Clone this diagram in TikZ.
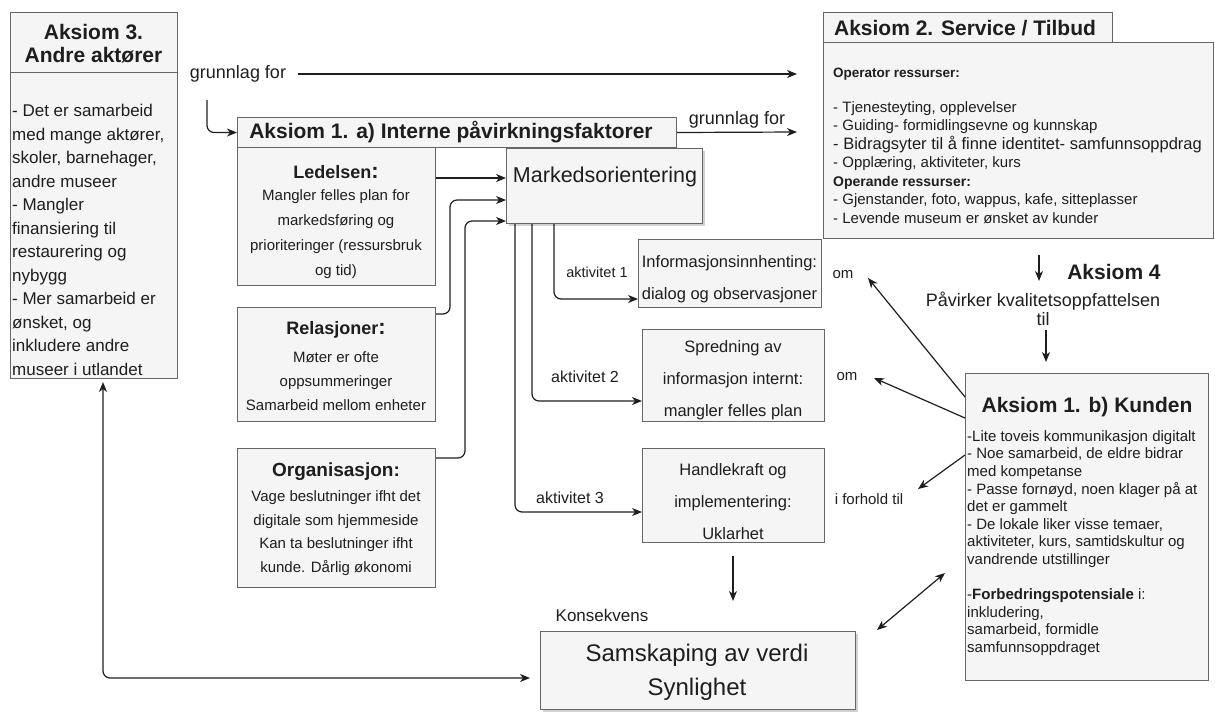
\documentclass[tikz,border=0pt]{standalone}
\usepackage{fontspec}
\setmainfont{Liberation Sans}
\usetikzlibrary{arrows.meta,shadows}
\definecolor{boxfill}{HTML}{F5F5F5}
\definecolor{boxline}{HTML}{666666}
\definecolor{ink}{HTML}{1E1E1E}
\newcommand\fsz[2]{\fontsize{#1}{#2}\selectfont}
\begin{document}
\begin{tikzpicture}[x=1pt,y=-1pt,
  box/.style={draw=boxline,fill=boxfill,line width=1pt,anchor=north west,inner sep=0pt},
  txt/.style={inner sep=0pt,text=ink},
  arr/.style={draw=ink,line width=1.2pt,-{Stealth[length=10pt,width=8pt,inset=3pt]},rounded corners=7pt},
  darr/.style={draw=ink,line width=1.2pt,{Stealth[length=10pt,width=8pt,inset=3pt]}-{Stealth[length=10pt,width=8pt,inset=3pt]},rounded corners=7pt},
  shad/.style={drop shadow={shadow xshift=2pt,shadow yshift=-2.5pt,fill=black,opacity=0.18}}]
\useasboundingbox (0,0) rectangle (1215,724);

% ---------- Aksiom 3 ----------
\node[box,minimum width=167pt,minimum height=60pt] (a3h) at (10,12) {};
\node[box,minimum width=167pt,minimum height=306pt] (a3b) at (10,72) {};
\node[txt,font=\bfseries\fsz{21}{23},align=center] (a3t) at (93.5,43.5) {Aksiom 3.\\Andre aktører};
\node[txt,font=\fsz{17}{23.5},align=left,anchor=west] (a3x) at (12,240)
 {- Det er samarbeid\\med mange aktører,\\skoler, barnehager,\\andre museer\\- Mangler\\finansiering til\\restaurering og\\nybygg\\- Mer samarbeid er\\ønsket, og\\inkludere andre\\museer i utlandet};

% ---------- grunnlag for ----------
\node[txt,font=\fsz{18}{20}] (gl1) at (238,74) {grunnlag for};
\coordinate (g1s) at (298,74);
\coordinate (g1e) at (797,74);
\draw[arr] (g1s) -- (g1e);
\coordinate (ls) at (207,100);

% ---------- Aksiom 1 a ----------
\node[box,minimum width=439pt,minimum height=30pt] (a1h) at (237,117) {};
\node[txt,font=\bfseries\fsz{21}{23}] (a1t) at (451,132) {Aksiom 1. a) Interne påvirkningsfaktorer};
\draw[arr] (ls) |- (a1h.west);

\node[txt,font=\fsz{18}{20}] (gl2) at (737,120) {grunnlag for};
\coordinate (g2e) at (797,132);
\draw[arr] (a1h.east) -- (g2e);

% Ledelsen
\node[box,minimum width=198pt,minimum height=138pt] (led) at (237,147) {};
\node[txt,font=\bfseries\fsz{18}{20}] (ledt) at (336,172) {Ledelsen{\fsz{22}{22}:}};
\node[txt,font=\fsz{15}{25},align=center] (ledx) at (336,234)
 {Mangler felles plan for\\markedsføring og\\prioriteringer (ressursbruk\\og tid)};

% Relasjoner
\node[box,minimum width=198pt,minimum height=114pt] (rel) at (237,307) {};
\node[txt,font=\bfseries\fsz{18}{20}] (relt) at (336,330) {Relasjoner{\fsz{22}{22}:}};
\node[txt,font=\fsz{15}{24},align=center] (relx) at (336,381)
 {Møter er ofte\\oppsummeringer\\Samarbeid mellom enheter};

% Organisasjon
\node[box,minimum width=198pt,minimum height=139pt] (org) at (237,448) {};
\node[txt,font=\bfseries\fsz{19}{20}] (orgt) at (336,472) {Organisasjon:};
\node[txt,font=\fsz{15}{23.5},align=center] (orgx) at (336,533)
 {Vage beslutninger ifht det\\digitale som hjemmeside\\Kan ta beslutninger ifht\\kunde. Dårlig økonomi};

% Markedsorientering
\node[box,shad,minimum width=196pt,minimum height=75pt] (mo) at (506,148) {};
\node[txt,font=\fsz{21.5}{24}] (mot) at (605,177) {Markedsorientering};

\draw[arr] (led.east |- 0,178) -- (mo.west |- 0,178);
\draw[arr] (rel.east |- 0,314) -| (450,200) -- (mo.west |- 0,200);
\draw[arr] (org.east |- 0,458) -| (465,221) -- (mo.west |- 0,221);

% Activity boxes
\node[box,minimum width=183pt,minimum height=68pt] (info) at (638,239) {};
\node[txt,font=\fsz{16.5}{32},align=center] (infox) at (729.5,279) {Informasjonsinnhenting:\\dialog og observasjoner};
\node[box,minimum width=182pt,minimum height=92pt] (spr) at (642,329) {};
\node[txt,font=\fsz{16.5}{32},align=center] (sprx) at (733,380) {Spredning av\\informasjon internt:\\mangler felles plan};
\node[box,minimum width=182pt,minimum height=94pt] (hand) at (642,448) {};
\node[txt,font=\fsz{16.5}{32},align=center] (handx) at (733,501.5) {Handlekraft og\\implementering:\\Uklarhet};

\draw[arr] (554,0 |- mo.south) |- (info.west |- 0,299);
\draw[arr] (532,0 |- mo.south) |- (spr.west |- 0,401);
\draw[arr] (515,0 |- mo.south) |- (hand.west |- 0,512);
\node[txt,font=\fsz{14.5}{16}] (ak1) at (597,272) {aktivitet 1};
\node[txt,font=\fsz{16}{18}] (ak2) at (585,377) {aktivitet 2};
\node[txt,font=\fsz{16}{18}] (ak3) at (570,498) {aktivitet 3};

% ---------- Aksiom 2 ----------
\node[box,minimum width=289pt,minimum height=30pt] (a2h) at (823,12) {};
\node[txt,font=\bfseries\fsz{21}{23}] (a2t) at (965,28) {Aksiom 2. Service / Tilbud};
\node[box,minimum width=390pt,minimum height=196pt] (a2b) at (823,42) {};
\node[txt,font=\fsz{15}{18.5},align=left,anchor=west] (a2x) at (833,146)
 {{\bfseries\fsz{13.5}{18.5}Operator ressurser:}\\[16pt]
  - Tjenesteyting, opplevelser\\
  - Guiding- formidlingsevne og kunnskap\\
  {\fsz{16.5}{18.5}- Bidragsyter til å finne identitet- samfunnsoppdrag}\\
  - Opplæring, aktiviteter, kurs\\
  {\bfseries\fsz{14}{18.5}Operande ressurser:}\\
  - Gjenstander, foto, wappus, kafe, sitteplasser\\
  - Levende museum er ønsket av kunder};

% ---------- Aksiom 4 ----------
\coordinate (a4s) at (1039,255);
\coordinate (a4e) at (1039,281);
\draw[arr] (a4s) -- (a4e);
\node[txt,font=\bfseries\fsz{21}{22}] (a4t) at (1114,272) {Aksiom 4};
\node[txt,font=\fsz{18}{19},align=center] (pk) at (1043,309) {Påvirker kvalitetsoppfattelsen\\til};
\coordinate (a4s2) at (1046,330);
\coordinate (a4e2) at (1046,362);
\draw[arr] (a4s2) -- (a4e2);

% ---------- Kunden ----------
\node[box,minimum width=243pt,minimum height=307pt] (kun) at (965,373) {};
\node[txt,font=\bfseries\fsz{21}{23}] (kunt) at (1087,407) {Aksiom 1. b) Kunden};
\node[txt,font=\fsz{15}{17.6},align=left,anchor=west] (kunx) at (967,543)
 {-Lite toveis kommunikasjon digitalt\\
  - Noe samarbeid, de eldre bidrar\\
  med kompetanse\\
  - Passe fornøyd, noen klager på at\\
  det er gammelt\\
  - De lokale liker visse temaer,\\
  aktiviteter, kurs, samtidskultur og\\
  vandrende utstillinger\\[17.6pt]
  -\textbf{Forbedringspotensiale} i:\\
  inkludering,\\
  samarbeid, formidle\\
  samfunnsoppdraget};

\node[txt,font=\fsz{15}{17}] (om1) at (843,275) {om};
\node[txt,font=\fsz{15}{17}] (om2) at (847,377) {om};
\node[txt,font=\fsz{15}{17}] (ift) at (869,499) {i forhold til};
\coordinate (om1e) at (868,278);
\coordinate (om2e) at (874,378);
\coordinate (ifte) at (918,489);
\draw[arr] (kun.west |- 0,397) -- (om1e);
\draw[arr] (kun.west |- 0,418) -- (om2e);
\draw[arr] (kun.west |- 0,455) -- (ifte);

% ---------- Samskaping ----------
\coordinate (hs) at (733,556);
\coordinate (he) at (733,601);
\draw[arr] (hs) -- (he);
\node[txt,font=\fsz{17}{19}] (kons) at (602,615) {Konsekvens};
\node[box,shad,minimum width=315pt,minimum height=78pt] (sams) at (540,631) {};
\node[txt,font=\fsz{24}{34},align=center] (samsx) at (697,672) {Samskaping av verdi\\Synlighet};

\coordinate (a3in) at (103,382);
\coordinate (samsin) at (530,678);
\draw[darr] (a3in) |- (samsin);
\coordinate (sk1) at (877,630);
\coordinate (sk2) at (945,573);
\draw[darr] (sk1) -- (sk2);
\end{tikzpicture}
\end{document}
